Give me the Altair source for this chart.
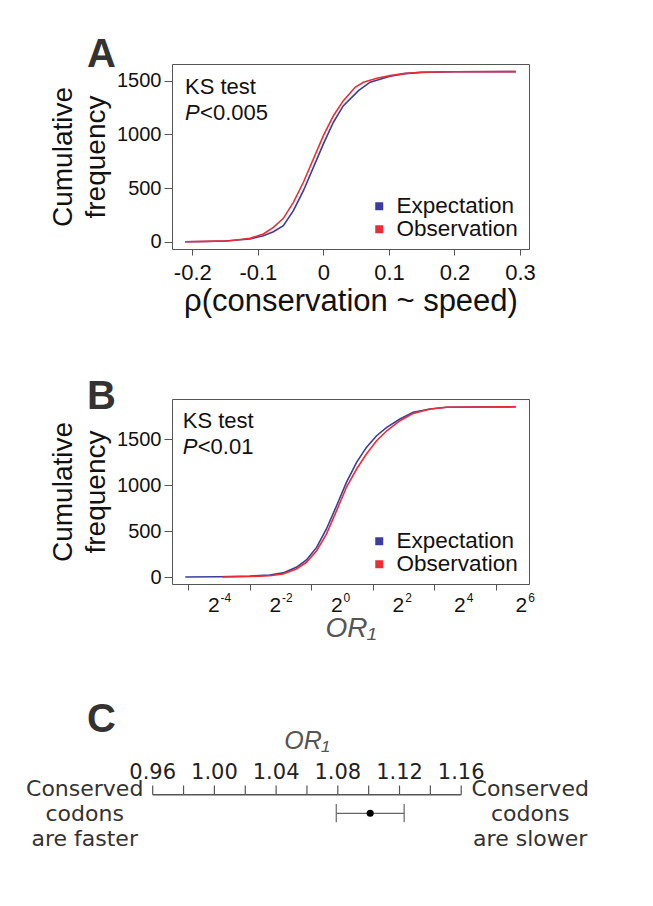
import altair as alt
import pandas as pd

FONT = "Liberation Sans"
CFONT = "DejaVu Sans"
BLUE = "#3a3d9c"
RED = "#ec2d36"
FRAME = "#555555"

# ---------------- Panel A : rho(conservation ~ speed) ----------------
a_exp_x = [-0.211, -0.18, -0.15, -0.1119, -0.0916, -0.0763, -0.0611, -0.0458, -0.0305,
           -0.0153, 0.0, 0.0153, 0.0305, 0.0535, 0.0713, 0.0916, 0.1018, 0.125, 0.15, 0.2, 0.2936]
a_exp_y = [0, 2, 6, 25, 56, 93, 149, 289, 475, 693, 911, 1113, 1267, 1407, 1486, 1523, 1541,
           1566, 1578, 1584, 1585]
a_obs_x = [-0.211, -0.18, -0.1424, -0.1119, -0.0916, -0.0763, -0.0611, -0.0458, -0.0305,
           -0.0153, 0.0, 0.0153, 0.0305, 0.0484, 0.0611, 0.0815, 0.1018, 0.125, 0.15, 0.2, 0.2936]
a_obs_y = [0, 3, 9, 32, 72, 134, 218, 367, 554, 771, 988, 1174, 1314, 1439, 1486, 1523, 1547,
           1568, 1579, 1584, 1585]
a_xticks = [-0.2, -0.1, 0.0, 0.1, 0.2, 0.3]
a_yticks = [0, 500, 1000, 1500]
a_notes = ["KS test", "P", "<0.005"]

# ---------------- Panel B : OR1 (log2 scale) ----------------
b_exp_x = [-5.1, -4.0, -3.0, -2.355, -1.92, -1.49, -1.16, -0.83, -0.51, -0.18, 0.14, 0.47,
           0.79, 1.12, 1.45, 1.88, 2.31, 2.86, 3.4, 4.2, 5.65]
b_exp_y = [0, 2, 10, 21, 45, 105, 185, 322, 522, 775, 1029, 1246, 1409, 1536, 1627, 1717,
           1790, 1826, 1845, 1848, 1850]
b_obs_x = [-3.9, -3.0, -2.355, -1.92, -1.49, -1.16, -0.83, -0.51, -0.18, 0.14, 0.47, 0.79,
           1.12, 1.45, 1.88, 2.31, 2.86, 3.4, 4.2, 5.65]
b_obs_y = [0, 5, 14, 33, 87, 160, 286, 467, 721, 975, 1174, 1337, 1482, 1590, 1699, 1779,
           1826, 1845, 1848, 1850]
b_xticks = [-5, -4, -3, -2, -1, 0, 1, 2, 3, 4, 5, 6]
b_lbl_pos = [-4, -2, 0, 2, 4, 6]
b_lbl_base = ["2", "2", "2", "2", "2", "2"]
b_lbl_exp = ["-4", "-2", "0", "2", "4", "6"]
b_yticks = [0, 500, 1000, 1500]
b_notes = ["KS test", "P", "<0.01"]

# ---------------- Panel C : OR1 estimate ----------------
c_minor = [0.96, 0.98, 1.00, 1.02, 1.04, 1.06, 1.08, 1.10, 1.12, 1.14, 1.16]
c_major = [0.96, 1.00, 1.04, 1.08, 1.12, 1.16]
c_major_lbl = ["0.96", "1.00", "1.04", "1.08", "1.12", "1.16"]
c_est, c_lo, c_hi = 1.101, 1.079, 1.123
c_left = ["Conserved", "codons", "are faster"]
c_right = ["Conserved", "codons", "are slower"]

series = ["Expectation", "Observation"]
color_scale = alt.Scale(domain=series, range=[BLUE, RED])


def legend():
    return alt.Legend(orient="none", legendX=196, legendY=131, title=None,
                      symbolType="square", symbolSize=16, symbolStrokeWidth=4,
                      labelFontSize=22.5, labelFont=FONT, labelColor="#111",
                      labelOffset=6, rowPadding=0, padding=0)


def letter(t, dy):
    return alt.TitleParams(t, anchor="start", frame="group", align="left",
                           baseline="alphabetic", offset=0, dx=-85, dy=dy,
                           fontSize=40, fontWeight="bold", color="#333", font=FONT)


def cdf_panel(ex, ey, ox, oy, xenc_kwargs, yenc_kwargs, notes, note_xy, title, extra=()):
    d_exp = pd.DataFrame({"x": ex, "y": ey, "s": series[0]})
    d_obs = pd.DataFrame({"x": ox, "y": oy, "s": series[1]})
    x = alt.X("x:Q", **xenc_kwargs)
    y = alt.Y("y:Q", **yenc_kwargs)
    col = alt.Color("s:N", scale=color_scale, legend=legend())
    l1 = alt.Chart(d_exp).mark_line(strokeWidth=1.6).encode(x=x, y=y, color=col)
    l2 = alt.Chart(d_obs).mark_line(strokeWidth=1.6).encode(x=x, y=y, color=col)
    (nx, ny1, ny2) = note_xy
    n1 = alt.Chart(pd.DataFrame({"x": [nx], "y": [ny1], "t": [notes[0]]})).mark_text(
        align="left", baseline="alphabetic", fontSize=22, font=FONT, color="#111"
    ).encode(x="x:Q", y="y:Q", text="t:N")
    n2 = alt.Chart(pd.DataFrame({"x": [nx], "y": [ny2], "t": [notes[1]]})).mark_text(
        align="left", baseline="alphabetic", fontSize=22, font=FONT, fontStyle="italic", color="#111"
    ).encode(x="x:Q", y="y:Q", text="t:N")
    n3 = alt.Chart(pd.DataFrame({"x": [nx], "y": [ny2], "t": [notes[2]]})).mark_text(
        align="left", baseline="alphabetic", fontSize=22, font=FONT, dx=15, color="#111"
    ).encode(x="x:Q", y="y:Q", text="t:N")
    return alt.layer(l1, l2, n1, n2, n3, *extra).properties(
        width=357, height=185, title=title,
        view=alt.ViewBackground(stroke=FRAME, strokeWidth=1))


yaxis = dict(grid=False, domain=False, tickSize=8, tickColor=FRAME, labelPadding=3,
             labelFontSize=20, labelColor="#111", labelFont=FONT, format="d",
             title=["Cumulative", "frequency"], titleFontSize=28, titleLineHeight=33,
             titleFontWeight="normal", titleColor="#111", titleFont=FONT, titlePadding=6)

panel_a = cdf_panel(
    a_exp_x, a_exp_y, a_obs_x, a_obs_y,
    dict(scale=alt.Scale(domain=[-0.231, 0.3137], nice=False, zero=False),
         axis=alt.Axis(values=a_xticks, grid=False, domain=False, tickSize=6, tickColor=FRAME,
                       labelPadding=7, labelFontSize=22, labelColor="#111", labelFont=FONT,
                       labelExpr="datum.value == 0 ? '0' : (datum.value < 0 ? '-' : '') + format(abs(datum.value), '.1f')",
                       title="ρ(conservation ~ speed)", titleFontSize=31, titleFontWeight="normal",
                       titleColor="#111", titleFont=FONT, titlePadding=3)),
    dict(scale=alt.Scale(domain=[-68, 1655.6], nice=False, zero=False),
         axis=alt.Axis(values=a_yticks, **yaxis)),
    a_notes, (-0.2111, 1376, 1134), letter("A", 43))

# tick labels 2^k of panel B, drawn as base "2" plus a raised exponent
b_base = alt.Chart(pd.DataFrame({"x": b_lbl_pos, "y": -384, "t": b_lbl_base})).mark_text(
    align="right", baseline="alphabetic", fontSize=21, font=FONT, color="#111", dx=0.5
).encode(x="x:Q", y="y:Q", text="t:N")
b_exp = alt.Chart(pd.DataFrame({"x": b_lbl_pos, "y": -275, "t": b_lbl_exp})).mark_text(
    align="left", baseline="alphabetic", fontSize=12, font=FONT, color="#111", dx=1.5
).encode(x="x:Q", y="y:Q", text="t:N")

panel_b = cdf_panel(
    b_exp_x, b_exp_y, b_obs_x, b_obs_y,
    dict(scale=alt.Scale(domain=[-5.53, 6.075], nice=False, zero=False),
         axis=alt.Axis(values=b_xticks, grid=False, domain=False, tickSize=6, tickColor=FRAME,
                       labels=False,
                       title="OR₁", titleFontSize=28, titleFontWeight="normal",
                       titleFontStyle="italic", titleColor="#555", titleFont=FONT, titlePadding=24)),
    dict(scale=alt.Scale(domain=[-76, 1935], nice=False, zero=False),
         axis=alt.Axis(values=b_yticks, **yaxis)),
    b_notes, (-5.18, 1620, 1337), letter("B", 50), extra=(b_base, b_exp))

# ---------------- Panel C chart ----------------
cx = alt.Scale(domain=[0.97251, 1.20395], nice=False, zero=False)
cy = alt.Scale(domain=[0, 120], nice=False, zero=False, reverse=True)
AXIS_Y, TICK_TOP, LBL_Y, TITLE_Y, EST_Y = 60.7, 51.5, 45, 15, 79.3
TEXT_Y = [61.7, 86.7, 111.7]

axis_line = alt.Chart(pd.DataFrame({"a": [c_minor[0]], "b": [c_minor[-1]], "y": [AXIS_Y]})).mark_rule(
    color=FRAME, strokeWidth=1.5).encode(
    x=alt.X("a:Q", scale=cx, axis=None), x2="b:Q", y=alt.Y("y:Q", scale=cy, axis=None))
ticks = alt.Chart(pd.DataFrame({"a": c_minor, "y": TICK_TOP, "y2": AXIS_Y})).mark_rule(
    color=FRAME, strokeWidth=1.2).encode(
    x=alt.X("a:Q", scale=cx, axis=None), y=alt.Y("y:Q", scale=cy, axis=None), y2="y2:Q")
tick_lbl = alt.Chart(pd.DataFrame({"a": c_major, "t": c_major_lbl, "y": LBL_Y})).mark_text(
    baseline="alphabetic", fontSize=21, font=CFONT, color="#222").encode(
    x=alt.X("a:Q", scale=cx, axis=None), y=alt.Y("y:Q", scale=cy, axis=None), text="t:N")
c_title = alt.Chart(pd.DataFrame({"a": [(c_minor[0] + c_minor[-1]) / 2], "t": ["OR₁"], "y": [TITLE_Y]})).mark_text(
    baseline="alphabetic", fontSize=25, font=FONT, fontStyle="italic", color="#555").encode(
    x=alt.X("a:Q", scale=cx, axis=None), y=alt.Y("y:Q", scale=cy, axis=None), text="t:N")
ci = alt.Chart(pd.DataFrame({"a": [c_lo], "b": [c_hi], "y": [EST_Y]})).mark_rule(
    color="#666", strokeWidth=1.2).encode(
    x=alt.X("a:Q", scale=cx, axis=None), x2="b:Q", y=alt.Y("y:Q", scale=cy, axis=None))
caps = alt.Chart(pd.DataFrame({"a": [c_lo, c_hi], "y": EST_Y - 9.3, "y2": EST_Y + 9})).mark_rule(
    color="#666", strokeWidth=1.2).encode(
    x=alt.X("a:Q", scale=cx, axis=None), y=alt.Y("y:Q", scale=cy, axis=None), y2="y2:Q")
pt = alt.Chart(pd.DataFrame({"a": [c_est], "y": [EST_Y]})).mark_circle(
    size=50, color="black", opacity=1).encode(
    x=alt.X("a:Q", scale=cx, axis=None), y=alt.Y("y:Q", scale=cy, axis=None))
left_txt = alt.Chart(pd.DataFrame({"a": c_minor[0], "t": c_left, "y": TEXT_Y})).mark_text(
    baseline="alphabetic", align="center", dx=-68, fontSize=22, font=CFONT, color="#333").encode(
    x=alt.X("a:Q", scale=cx, axis=None), y=alt.Y("y:Q", scale=cy, axis=None), text="t:N")
right_txt = alt.Chart(pd.DataFrame({"a": c_minor[-1], "t": c_right, "y": TEXT_Y})).mark_text(
    baseline="alphabetic", align="center", dx=69, fontSize=22, font=CFONT, color="#333").encode(
    x=alt.X("a:Q", scale=cx, axis=None), y=alt.Y("y:Q", scale=cy, axis=None), text="t:N")

panel_c = alt.layer(axis_line, ticks, tick_lbl, c_title, ci, caps, pt, left_txt, right_txt).properties(
    width=357, height=120, title=letter("C", 43))

chart = alt.vconcat(panel_a, panel_b, panel_c, spacing=150, bounds="flush").resolve_scale(
    color="independent").properties(
    padding={"left": 18, "top": 26, "right": 5, "bottom": 5}
).configure(font=FONT).configure_view(stroke=None)

chart.save("out.html", embed_options={"renderer": "svg", "actions": False})
